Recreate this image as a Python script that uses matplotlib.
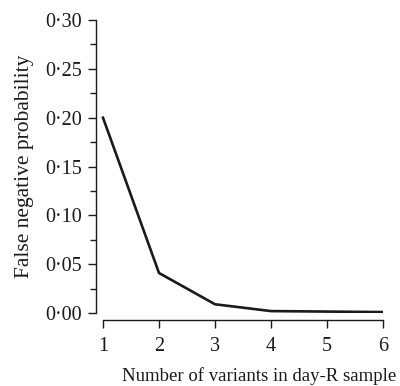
import matplotlib
matplotlib.use('Agg')
import matplotlib.pyplot as plt
from matplotlib.ticker import MultipleLocator, FuncFormatter

# Data
variants = [1, 2, 3, 4, 5, 6]
fn_prob = [0.200, 0.041, 0.009, 0.002, 0.0015, 0.001]

plt.rcParams['font.family'] = ['Liberation Serif', 'DejaVu Serif']

fig = plt.figure(figsize=(4.0, 3.86), dpi=100)
ax = fig.add_axes([0.24, 0.189, 0.7175, 0.759])

ax.plot(variants, fn_prob, color='#1a1a1a', linewidth=1.9, solid_joinstyle='miter')

ax.set_xlim(0.875, 6.0)
ax.set_ylim(0, 0.30)

ax.spines['top'].set_visible(False)
ax.spines['right'].set_visible(False)
ax.spines['bottom'].set_position(('outward', 5))
ax.spines['bottom'].set_bounds(1, 6)
ax.spines['left'].set_bounds(0, 0.30)
for s in ['left', 'bottom']:
    ax.spines[s].set_linewidth(1.0)
    ax.spines[s].set_color('#1a1a1a')

ax.set_xticks(variants)
ax.yaxis.set_major_locator(MultipleLocator(0.05))
ax.yaxis.set_minor_locator(MultipleLocator(0.025))
ax.yaxis.set_major_formatter(FuncFormatter(lambda v, p: f"{v:.2f}".replace('.', '\u00b7')))

ax.tick_params(axis='both', which='major', labelsize=14.5, length=6, width=1.0,
               color='#1a1a1a', labelcolor='#1a1a1a')
ax.tick_params(axis='y', which='minor', length=4, width=1.0, color='#1a1a1a')
ax.tick_params(axis='y', which='major', pad=4)
ax.tick_params(axis='x', which='major', pad=6)

ax.set_xlabel('Number of variants in day-R sample', fontsize=13.5, color='#1a1a1a')
ax.xaxis.set_label_coords(0.568, -0.185)
ax.set_ylabel('False negative probability', fontsize=15.5, color='#1a1a1a', labelpad=8)

fig.savefig('out.png', dpi=100)
